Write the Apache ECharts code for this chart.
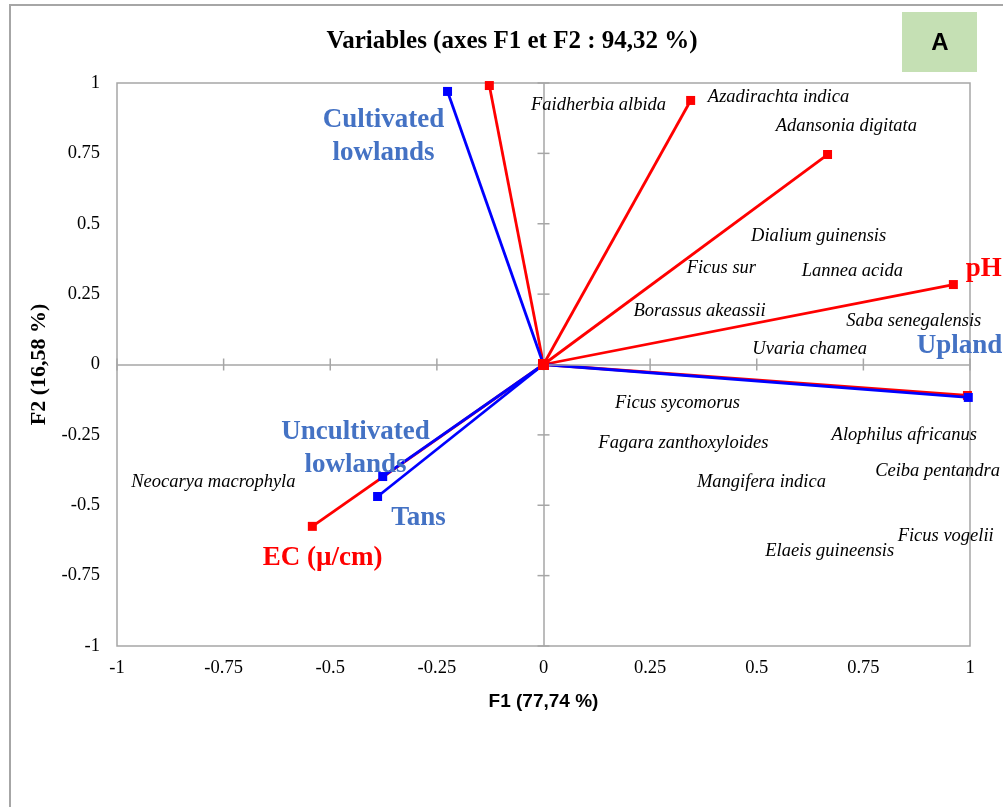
<!DOCTYPE html>
<html>
<head>
<meta charset="utf-8">
<script src="https://cdn.jsdelivr.net/npm/echarts@6/dist/echarts.min.js"></script>
<style>
html,body{margin:0;padding:0;background:#fff;}
#frame{position:absolute;left:9px;top:4px;width:1200px;height:1000px;border-left:2px solid #a6a6a6;border-top:2px solid #a6a6a6;pointer-events:none;z-index:2;}
#chart{position:absolute;left:0;top:0;width:1003px;height:807px;z-index:1;}
</style>
</head>
<body>
<div id="chart"></div>
<div id="frame"></div>
<script>
// ---------- data ----------
const titleText = 'Variables (axes F1 et F2 : 94,32 %)';
const panelLetter = 'A';
const xAxisName = 'F1 (77,74 %)';
const yAxisName = 'F2 (16,58 %)';
const tickValues = [-1, -0.75, -0.5, -0.25, 0, 0.25, 0.5, 0.75, 1];

// red variable vectors (loadings)
const redF1 = [-0.127, 0.345, 0.666, 0.961, 0.994, -0.542];
const redF2 = [0.991, 0.938, 0.746, 0.284, -0.110, -0.575];

// blue variable vectors (habitats)
const blueF1 = [-0.225, -0.377, -0.389, 0.996];
const blueF2 = [0.970, -0.398, -0.469, -0.117];

// blue habitat labels
const blueLabels = ['Cultivated\nlowlands', 'Uncultivated\nlowlands', 'Tans', 'Upland'];
const blueLabelF1 = [-0.375, -0.441, -0.293, 0.875];
const blueLabelF2 = [0.810, -0.298, -0.544, 0.066];
const blueLabelAlign = ['center', 'center', 'center', 'left'];

// red variable labels
const redLabels = ['pH', 'EC (µ/cm)'];
const redLabelF1 = [0.990, -0.518];
const redLabelF2 = [0.340, -0.686];
const redLabelAlign = ['left', 'center'];

// species (observations)
const species = ['Faidherbia albida', 'Azadirachta indica', 'Adansonia digitata', 'Dialium guinensis',
  'Ficus sur', 'Lannea acida', 'Borassus akeassii', 'Saba senegalensis', 'Uvaria chamea',
  'Ficus sycomorus', 'Fagara zanthoxyloides', 'Alophilus africanus', 'Neocarya macrophyla',
  'Ceiba pentandra', 'Mangifera indica', 'Ficus vogelii', 'Elaeis guineensis'];
const speciesF1 = [0.129, 0.551, 0.710, 0.645, 0.417, 0.724, 0.366, 0.868, 0.624,
  0.314, 0.328, 0.846, -0.774, 0.924, 0.511, 0.943, 0.671];
const speciesF2 = [0.920, 0.948, 0.845, 0.455, 0.341, 0.330, 0.188, 0.153, 0.053,
  -0.139, -0.281, -0.252, -0.419, -0.380, -0.419, -0.611, -0.664];

// ---------- chart ----------
const GRAY = '#a6a6a6';
const SERIF = 'Liberation Serif';
const series = [];

// zero lines
series.push({
  type: 'line', data: [], silent: true, z: 1,
  markLine: {
    silent: true, symbol: 'none', animation: false,
    label: { show: false },
    lineStyle: { color: GRAY, width: 1.5, type: 'solid' },
    data: [{ xAxis: 0 }, { yAxis: 0 }]
  }
});
// crossing ticks on the zero lines
series.push({
  type: 'scatter', silent: true, z: 1, symbol: 'rect', symbolSize: [1.5, 12],
  itemStyle: { color: GRAY, opacity: 1 },
  data: tickValues.map(v => [v, 0])
});
series.push({
  type: 'scatter', silent: true, z: 1, symbol: 'rect', symbolSize: [12, 1.5],
  itemStyle: { color: GRAY, opacity: 1 },
  data: tickValues.map(v => [0, v])
});

// red vectors
redF1.forEach((x, i) => {
  series.push({
    type: 'line', silent: true, z: 3, clip: false,
    data: [[0, 0], [x, redF2[i]]],
    symbol: 'rect', symbolSize: 9, showSymbol: true,
    lineStyle: { color: '#ff0000', width: 2.8 },
    itemStyle: { color: '#ff0000' }
  });
});
// blue vectors
blueF1.forEach((x, i) => {
  series.push({
    type: 'line', silent: true, z: 4, clip: false,
    data: [[0, 0], [x, blueF2[i]]],
    symbol: 'rect', symbolSize: 9, showSymbol: true,
    lineStyle: { color: '#0000ff', width: 2.8 },
    itemStyle: { color: '#0000ff' }
  });
});
// origin marker
series.push({
  type: 'scatter', silent: true, z: 6, symbol: 'rect', symbolSize: 11,
  itemStyle: { color: '#ff0000', opacity: 1 }, data: [[0, 0]]
});

// species labels
series.push({
  type: 'scatter', silent: true, z: 7, symbolSize: 1,
  itemStyle: { color: 'rgba(0,0,0,0)', opacity: 1 },
  data: species.map((n, i) => ({ value: [speciesF1[i], speciesF2[i]], name: n })),
  label: {
    show: true, position: 'inside', formatter: p => p.name,
    fontFamily: SERIF, fontStyle: 'italic', fontSize: 18.5, color: '#000'
  }
});
// blue habitat labels
series.push({
  type: 'scatter', silent: true, z: 8, symbolSize: 1,
  itemStyle: { color: 'rgba(0,0,0,0)', opacity: 1 },
  data: blueLabels.map((n, i) => ({
    value: [blueLabelF1[i], blueLabelF2[i]], name: n,
    label: { align: blueLabelAlign[i] }
  })),
  label: {
    show: true, position: 'inside', formatter: p => p.name,
    fontFamily: SERIF, fontWeight: 'bold', fontSize: 27, lineHeight: 33, color: '#4472c4'
  }
});
// red variable labels
series.push({
  type: 'scatter', silent: true, z: 8, symbolSize: 1,
  itemStyle: { color: 'rgba(0,0,0,0)', opacity: 1 },
  data: redLabels.map((n, i) => ({
    value: [redLabelF1[i], redLabelF2[i]], name: n,
    label: { align: redLabelAlign[i] }
  })),
  label: {
    show: true, position: 'inside', formatter: p => p.name,
    fontFamily: SERIF, fontWeight: 'bold', fontSize: 27, color: '#ff0000'
  }
});

const chart = echarts.init(document.getElementById('chart'), null, { renderer: 'canvas' });
chart.setOption({
  animation: false,
  backgroundColor: 'transparent',
  title: {
    text: titleText, left: 512, top: 29, textAlign: 'center', padding: 0,
    textStyle: { fontFamily: SERIF, fontWeight: 'bold', fontSize: 25, color: '#000' }
  },
  graphic: [
    { type: 'rect', left: 902, top: 12, shape: { width: 75, height: 60 }, style: { fill: '#c5e0b4' }, z: 0 },
    { type: 'text', x: 940, y: 43, style: { text: panelLetter, font: 'bold 24px "Liberation Sans"', textAlign: 'center', textVerticalAlign: 'middle', fill: '#000' } }
  ],
  grid: {
    left: 117, right: 33, top: 83, bottom: 161, show: true,
    borderColor: GRAY, borderWidth: 1.5, backgroundColor: 'transparent'
  },
  xAxis: {
    type: 'value', min: -1, max: 1, interval: 0.25,
    name: xAxisName, nameLocation: 'middle', nameGap: 46,
    nameTextStyle: { fontFamily: 'Liberation Sans', fontWeight: 'bold', fontSize: 19, color: '#000' },
    axisLine: { show: false, onZero: false }, axisTick: { show: false }, splitLine: { show: false },
    axisLabel: { margin: 13, fontFamily: SERIF, fontSize: 18.5, color: '#000' }
  },
  yAxis: {
    type: 'value', min: -1, max: 1, interval: 0.25,
    name: yAxisName, nameLocation: 'middle', nameGap: 64, nameRotate: 90,
    nameTextStyle: { fontFamily: SERIF, fontWeight: 'bold', fontSize: 22, color: '#000' },
    axisLine: { show: false, onZero: false }, axisTick: { show: false }, splitLine: { show: false },
    axisLabel: { margin: 17, fontFamily: SERIF, fontSize: 18.5, color: '#000' }
  },
  series: series
});
</script>
</body>
</html>
